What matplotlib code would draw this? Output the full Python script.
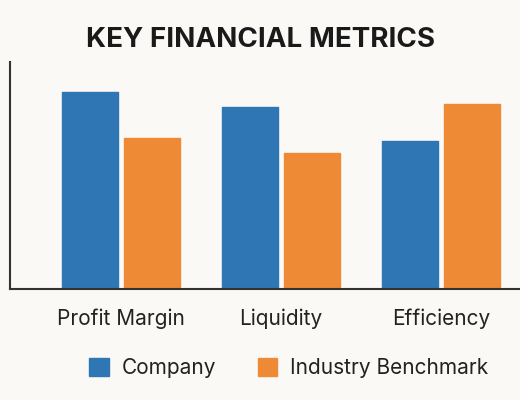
import matplotlib.pyplot as plt
import numpy as np

# データ
categories = ["Profit Margin", "Liquidity", "Efficiency"]
company = [87, 80, 65]
benchmark = [66.5, 60, 81.5]

bg = "#faf9f6"
blue = "#2f76b5"
orange = "#ee8a35"

plt.rcParams['font.family'] = ['Inter', 'DejaVu Sans']

fig = plt.figure(figsize=(5.2, 4.0), dpi=100, facecolor=bg)
ax = fig.add_axes([0.0192, 0.2775, 0.9808, 0.5675], facecolor=bg)

x = np.arange(len(categories))
w = 0.35
gap = 0.04
ax.bar(x - (w + gap) / 2, company, width=w, color=blue, edgecolor=blue,
       linewidth=1, joinstyle='round', label="Company")
ax.bar(x + (w + gap) / 2, benchmark, width=w, color=orange, edgecolor=orange,
       linewidth=1, joinstyle='round', label="Industry Benchmark")

ax.set_xlim(-0.695, 2.495)
ax.set_ylim(0, 100)
ax.set_yticks([])
ax.set_xticks(x)
ax.set_xticklabels(categories, fontsize=15, color="#222222")
ax.tick_params(axis='x', length=0, pad=14)

for s in ['top', 'right']:
    ax.spines[s].set_visible(False)
for s in ['left', 'bottom']:
    ax.spines[s].set_color("#333333")
    ax.spines[s].set_linewidth(1.5)

fig.text(0.5, 0.9, "KEY FINANCIAL METRICS", ha='center', va='center',
         fontsize=20, fontweight='bold', color="#1a1a1a")

fig.legend(loc='center', bbox_to_anchor=(0.555, 0.08), ncol=2, frameon=False,
           fontsize=15, handlelength=0.95, handleheight=0.95, columnspacing=2.0,
           handletextpad=0.6, labelcolor="#222222")

fig.savefig("out.png", dpi=100, facecolor=bg)
